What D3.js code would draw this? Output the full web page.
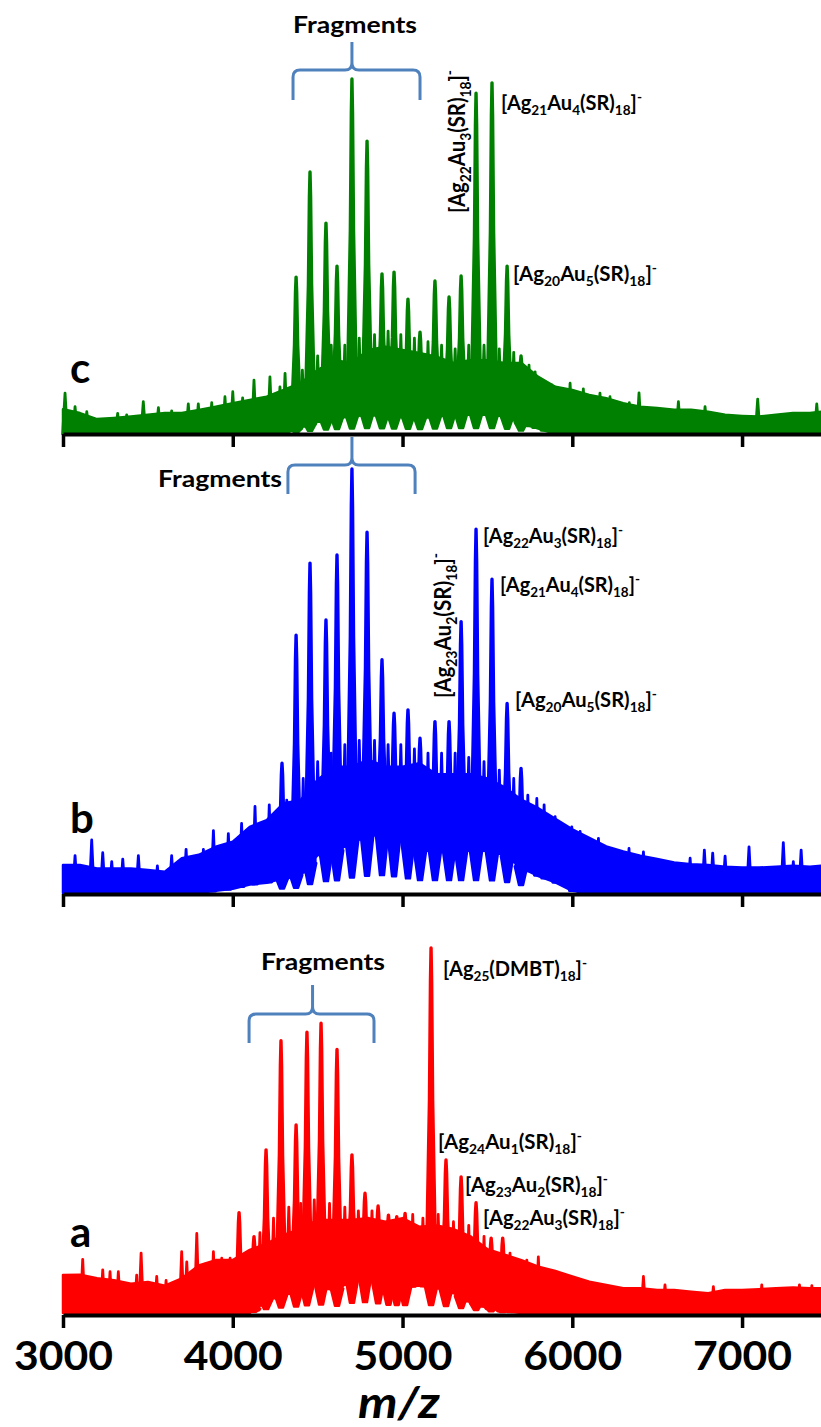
<!DOCTYPE html>
<html><head><meta charset="utf-8">
<script src="https://cdn.jsdelivr.net/npm/d3@7"></script>
<style>
html,body{margin:0;padding:0;background:#fff;}
svg{display:block;}
text{font-family:Lato,"Open Sans",sans-serif;}
</style></head><body>
<svg id="chart" width="821" height="1427"></svg>
<script>
// ---------------- DATA ----------------
const xTicks = [3000, 4000, 5000, 6000, 7000];
const xTickLabels = ["3000", "4000", "5000", "6000", "7000"];
const xTitle = "m/z";
const panelLetters = ["c", "b", "a"];

// noise envelope grid (m/z)
const mzGrid = [3000,3100,3200,3300,3400,3500,3600,3700,3800,3900,
  4000,4100,4200,4300,4400,4500,4600,4700,4800,4900,
  5000,5100,5200,5300,5400,5500,5600,5700,5800,5900,
  6000,6100,6200,6300,6400,6500,6600,6700,6800,6900,
  7000,7100,7200,7300,7400,7465];

// spectrum c (green) – relative intensity, %
const cUpper = [7,5.9,4.2,4.5,4.9,5.4,5.9,5.9,6.8,7.7,
  8.7,9.6,10.5,12.4,14.4,18,20.8,20,23.7,24.6,
  23.7,22.8,21.8,20,20.8,20.8,20,20,16.1,13.3,
  12.4,11,10.1,8.7,7.7,7.3,6.8,6.8,6.3,5.4,
  5.1,4.9,5.4,5.9,5.9,6.3];
const cLower = [0,0,0,0,0,0,0,0,0,0,
  0,0,0,0,2,3.5,4.5,5,5.5,5,
  4.8,4.5,5,5.5,5.5,5.5,5,3,1.5,0,
  0,0,0,0,0,0,0,0,0,0,
  0,0,0,0,0,0];
const cPeakMz = [4373,4455,4549,4614,4702,4791,4879,4950,5032,5103,5191,5274,5345,5433,5527,5616,5698];
const cPeakI  = [44.2,73.8,59.4,47.3,100,82.5,45.1,45.6,38,28.7,43.1,38.6,44.5,96,98.9,47.3,22];
const cMinorMz = [3012,3071,3140,3322,3375,3473,3562,3640,3738,3797,3876,3954,4000,4058,4125,4219,4278,4308,
  4410,4500,4580,4660,4745,4835,4915,4990,5070,5150,5230,5310,5390,5480,5570,5655,
  5745,5781,5830,5879,5987,6065,6163,6222,6336,6393,6625,6782,7092,7440];
const cMinorI = [11.5,7.7,6.3,5.8,5.4,9.1,7.4,6.5,8.5,8.5,8.8,10.5,11.9,10.2,15.2,16.1,13.3,17.1,
  18,22,25,25,27,28,29,28,27,26,25,24,25,25,24,23,
  19.4,17.5,13.8,13.8,14.3,12.7,11.5,10.5,8.8,11.6,9.1,7.7,9.8,8.5];

// spectrum b (blue)
const bUpper = [6.6,6.6,5.8,5.8,5.8,5.4,5,8.2,9,10.9,
  12.1,15.6,17.2,21.2,21.9,26.7,29.8,29.8,31.4,29.8,
  29.8,30.6,28,28,28,27,25,22,20,17.5,
  15,13,11,9.8,8.8,8,7.2,6.8,6.6,6.2,
  6,6,6.2,6.4,6.2,6.4];
const bLower = [0,0,0,0,0,0,0,0,0,0.5,
  1,2,2.4,3.5,4.2,9,9.5,12,13.5,14,
  12,10,10,10,10,10,9,6,4,2.5,
  0.5,0,0,0,0,0,0,0,0,0,
  0,0,0,0,0,0];
const bPeakMz = [4290,4373,4455,4549,4614,4702,4791,4879,4950,5032,5103,5191,5274,5345,5433,5527,5616,5698];
const bPeakI  = [30.6,60.8,77.8,64.4,79.7,100,85.1,55,42.4,43.2,36.5,40.4,40.4,64,85.8,74,44.7,29.4];
const bMinorMz = [3071,3169,3234,3287,3352,3444,3556,3640,3725,3827,3886,3974,4052,4131,4215,4318,
  4415,4500,4580,4660,4745,4835,4915,4990,5070,5150,5230,5310,5390,5480,5570,5655,
  5738,5791,5834,5899,5997,6046,6154,6242,6334,6419,6694,6778,6827,6900,7041,7243,7302,7348];
const bMinorI = [8.8,12.5,9.5,7.4,8,8.8,6.4,8.8,10.3,10.3,14.7,14,16.4,20.4,20.8,21.9,
  27,31,33,35,36,36,35,35,34,33,33,33,32,31,29,27,
  23.1,22.3,20.8,18,15.6,14.5,12.9,9.4,10.5,9.7,8.2,10.1,9.4,8.7,10.9,11.9,7.4,10.1];

// spectrum a (red)
const aUpper = [10.4,10.5,9.5,9,8,8.5,7.5,9.5,13,14.5,
  14.5,17.3,19,21.4,23,25.5,25.5,25.5,26,25,
  26,23.6,24,23,21,17.5,16,14.5,12.7,11.5,
  10,8.6,7.7,6.8,6.8,6.3,6.3,5.8,5.4,6.3,
  6.3,6.5,6.8,7,6.8,6.8];
const aLower = [0,0,0,0,0,0,0,0,0,0,
  0,0,3.5,5,6,8,6,9,10,7.5,
  7,7.5,7,5.5,3,1.5,0.5,0,0,0,
  0,0,0,0,0,0,0,0,0,0,
  0,0,0,0,0,0];
const aPeakMz = [4037,4125,4196,4284,4373,4437,4520,4614,4702,4779,4856,4917,4966,5015,5168,5256,5345,5433,5522,5590];
const aPeakI  = [27.5,20.9,44.7,74.6,51.5,76.9,79.4,72.2,43.3,32.8,29.3,26.8,26.4,27.3,100,41.9,37.3,30.2,20.5,20.5];
const aMinorMz = [3116,3234,3277,3326,3434,3460,3552,3607,3699,3729,3788,3837,3886,3935,3984,
  4160,4240,4330,4400,4480,4570,4660,4740,4820,5060,5120,5210,5300,5390,5480,
  5633,5732,5800,5918,6016,6144,6419,6546,6831,7116,7338,7411];
const aMinorI = [14.7,11.8,11.3,11.3,10.4,16.4,10,8.9,16.8,14,21.8,13.4,16.8,15,15,
  22,26,29,30,31,30,29,28,28,27,26,27,25,24,21,
  16.4,14.5,15.4,10.4,9,8.1,10,7.7,7.2,7.7,7.7,7.5];

// annotations: text parts [text, kind]  kind: "" | "sub" | "sup"
const fragmentsText = "Fragments";
const fragmentRanges = [[4355,5103,4702],[4325,5074,4702],[4096,4832,4470]]; // c, b, a
const cLabels = [
  [["[Ag",""],["21","sub"],["Au",""],["4","sub"],["(SR)",""],["18","sub"],["]",""],["-","sup"]],
  [["[Ag",""],["20","sub"],["Au",""],["5","sub"],["(SR)",""],["18","sub"],["]",""],["-","sup"]],
  [["[Ag",""],["22","sub"],["Au",""],["3","sub"],["(SR)",""],["18","sub"],["]",""],["-","sup"]]
];
const bLabels = [
  [["[Ag",""],["22","sub"],["Au",""],["3","sub"],["(SR)",""],["18","sub"],["]",""],["-","sup"]],
  [["[Ag",""],["21","sub"],["Au",""],["4","sub"],["(SR)",""],["18","sub"],["]",""],["-","sup"]],
  [["[Ag",""],["20","sub"],["Au",""],["5","sub"],["(SR)",""],["18","sub"],["]",""],["-","sup"]],
  [["[Ag",""],["23","sub"],["Au",""],["2","sub"],["(SR)",""],["18","sub"],["]",""],["-","sup"]]
];
const aLabels = [
  [["[Ag",""],["25","sub"],["(DMBT)",""],["18","sub"],["]",""],["-","sup"]],
  [["[Ag",""],["24","sub"],["Au",""],["1","sub"],["(SR)",""],["18","sub"],["]",""],["-","sup"]],
  [["[Ag",""],["23","sub"],["Au",""],["2","sub"],["(SR)",""],["18","sub"],["]",""],["-","sup"]],
  [["[Ag",""],["22","sub"],["Au",""],["3","sub"],["(SR)",""],["18","sub"],["]",""],["-","sup"]]
];

// ---------------- LAYOUT ----------------
const svg = d3.select("#chart");
const x = d3.scaleLinear().domain([3000, 7465]).range([63, 821]);

const panels = [
  { letter: panelLetters[0], color: "#008000", y0: 434, y1: 79, axisY: 434, upper: cUpper, lower: cLower,
    peakMz: cPeakMz, peakI: cPeakI, minorMz: cMinorMz, minorI: cMinorI, letterY: 383,
    frag: { range: fragmentRanges[0], textX: 355, textY: 33, bottom: 100, bar: 70, tip: 42 },
    labels: [
      { parts: cLabels[0], x: 501, y: 110, len: 141, size: 20 },
      { parts: cLabels[1], x: 513, y: 281, len: 144, size: 20 },
      { parts: cLabels[2], x: 465, y: 213, len: 143, size: 23, rotate: true }
    ], showLabels: false },
  { letter: panelLetters[1], color: "#0000ff", y0: 893, y1: 469, axisY: 894, upper: bUpper, lower: bLower,
    peakMz: bPeakMz, peakI: bPeakI, minorMz: bMinorMz, minorI: bMinorI, letterY: 833,
    frag: { range: fragmentRanges[1], textX: 220, textY: 487, bottom: 494, bar: 465, tip: 437 },
    labels: [
      { parts: bLabels[0], x: 483, y: 543, len: 140, size: 20 },
      { parts: bLabels[1], x: 500, y: 592, len: 140, size: 20 },
      { parts: bLabels[2], x: 515, y: 707, len: 142, size: 20 },
      { parts: bLabels[3], x: 451, y: 698, len: 145, size: 23, rotate: true }
    ], showLabels: false },
  { letter: panelLetters[2], color: "#ff0000", y0: 1313, y1: 948, axisY: 1315, upper: aUpper, lower: aLower,
    peakMz: aPeakMz, peakI: aPeakI, minorMz: aMinorMz, minorI: aMinorI, letterY: 1247,
    frag: { range: fragmentRanges[2], textX: 323, textY: 970, bottom: 1043, bar: 1014, tip: 985 },
    labels: [
      { parts: aLabels[0], x: 443, y: 976, len: 144, size: 20 },
      { parts: aLabels[1], x: 438, y: 1149, len: 144, size: 20 },
      { parts: aLabels[2], x: 465, y: 1192, len: 143, size: 20 },
      { parts: aLabels[3], x: 483, y: 1225, len: 142, size: 20 }
    ], showLabels: true }
];

const braceColor = "#4f81bd";

function interpAt(arr, mz) {
  for (let i = 0; i < mzGrid.length - 1; i++) {
    if (mz >= mzGrid[i] && mz <= mzGrid[i + 1]) {
      const t = (mz - mzGrid[i]) / (mzGrid[i + 1] - mzGrid[i]);
      return arr[i] + t * (arr[i + 1] - arr[i]);
    }
  }
  return arr[arr.length - 1];
}

function drawLabel(g, L) {
  const t = g.append("text")
    .attr("font-weight", "bold")
    .attr("font-size", L.size)
    .attr("fill", "#000")
    .attr("textLength", L.len)
    .attr("lengthAdjust", "spacingAndGlyphs");
  if (L.rotate) t.attr("transform", `translate(${L.x},${L.y}) rotate(-90)`);
  else t.attr("transform", `translate(${L.x},${L.y})`);
  let shift = 0;
  L.parts.forEach(([s, kind]) => {
    let target = 0, fs = L.size;
    if (kind === "sub") { target = 0.27 * L.size; fs = 0.68 * L.size; }
    if (kind === "sup") { target = -0.42 * L.size; fs = 0.68 * L.size; }
    t.append("tspan").attr("dy", target - shift).attr("font-size", fs).text(s);
    shift = target;
  });
}

panels.forEach(p => {
  const y = d3.scaleLinear().domain([0, 100]).range([p.y0, p.y1]);
  const g = svg.append("g");

  // noise band
  const area = d3.area()
    .x((d, i) => x(mzGrid[i]))
    .y0((d, i) => y(p.lower[i]))
    .y1(d => y(d));
  g.append("path").datum(p.upper)
    .attr("d", area)
    .attr("fill", p.color)
    .attr("stroke", p.color)
    .attr("stroke-width", 2.5)
    .attr("stroke-linejoin", "round");

  // minor spikes
  p.minorMz.forEach((mz, i) => {
    const xc = x(mz), yt = y(p.minorI[i]), yb = y(interpAt(p.lower, mz));
    g.append("path")
      .attr("d", `M${xc - 2.4},${yb} L${xc},${yt} L${xc + 2.4},${yb} Z`)
      .attr("fill", p.color).attr("stroke", p.color)
      .attr("stroke-width", 2.8).attr("stroke-linejoin", "round");
  });

  // major peaks (with a tapered foot reaching below the noise band)
  p.peakMz.forEach((mz, i) => {
    const lw = interpAt(p.lower, mz);
    const xc = x(mz), yt = y(p.peakI[i]), yb = y(lw);
    const yd = y(lw * 0.3);
    const ym = yb + (yt - yb) * 0.55;
    const yh = yb + (yt - yb) * 0.9;
    g.append("path")
      .attr("d", `M${xc - 5},${yb} L${xc - 1.6},${ym} L${xc - 0.6},${yh} L${xc},${yt} L${xc + 0.6},${yh} L${xc + 1.6},${ym} L${xc + 5},${yb} Z`)
      .attr("fill", p.color).attr("stroke", p.color)
      .attr("stroke-width", 3.4).attr("stroke-linejoin", "round");
    if (lw > 0.5) {
      g.append("path")
        .attr("d", `M${xc - 6.5},${yb - 1} L${xc - 2.2},${yd} L${xc + 2.2},${yd} L${xc + 6.5},${yb - 1} Z`)
        .attr("fill", p.color).attr("stroke", p.color)
        .attr("stroke-width", 2).attr("stroke-linejoin", "round");
    }
  });

  // axis
  const axis = d3.axisBottom(x).tickValues(xTicks).tickSize(13).tickSizeOuter(0)
    .tickFormat((d, i) => p.showLabels ? xTickLabels[i] : "");
  const ag = svg.append("g").attr("transform", `translate(0,${p.axisY})`).call(axis);
  ag.select(".domain").attr("stroke", "#000").attr("stroke-width", 4);
  ag.selectAll(".tick line").attr("stroke", "#000").attr("stroke-width", 3.5);
  ag.selectAll(".tick text")
    .attr("y", 55).attr("dy", 0)
    .attr("fill", "#000")
    .attr("font-family", "Lato, 'Open Sans', sans-serif")
    .attr("font-size", 40).attr("font-weight", "bold")
    .attr("textLength", 99).attr("lengthAdjust", "spacingAndGlyphs");

  // panel letter
  svg.append("text").attr("x", 70).attr("y", p.letterY)
    .attr("font-size", 42).attr("font-weight", "bold").attr("fill", "#000")
    .text(p.letter);

  // fragments brace
  const f = p.frag;
  const x0 = x(f.range[0]), x1 = x(f.range[1]), xt = x(f.range[2]);
  const r = 7;
  const bd = `M${x0},${f.bottom} L${x0},${f.bar + r} Q${x0},${f.bar} ${x0 + r},${f.bar} L${xt - r},${f.bar} Q${xt},${f.bar} ${xt},${f.bar - r} L${xt},${f.tip}` +
             ` M${xt},${f.tip} L${xt},${f.bar - r} Q${xt},${f.bar} ${xt + r},${f.bar} L${x1 - r},${f.bar} Q${x1},${f.bar} ${x1},${f.bar + r} L${x1},${f.bottom}`;
  svg.append("path").attr("d", bd).attr("fill", "none").attr("stroke", braceColor)
    .attr("stroke-width", 3).attr("stroke-linejoin", "round");
  svg.append("text").attr("x", f.textX).attr("y", f.textY)
    .attr("text-anchor", "middle")
    .attr("font-size", 23).attr("font-weight", "bold").attr("fill", "#000")
    .attr("textLength", 124).attr("lengthAdjust", "spacingAndGlyphs")
    .text(fragmentsText);

  // peak labels
  const lg = svg.append("g");
  p.labels.forEach(L => drawLabel(lg, L));
});

// x axis title
svg.append("text").attr("x", 399).attr("y", 1418)
  .attr("text-anchor", "middle")
  .attr("font-size", 44).attr("font-weight", "bold").attr("font-style", "italic")
  .attr("fill", "#000")
  .attr("textLength", 82).attr("lengthAdjust", "spacingAndGlyphs")
  .text(xTitle);
</script>
</body></html>
